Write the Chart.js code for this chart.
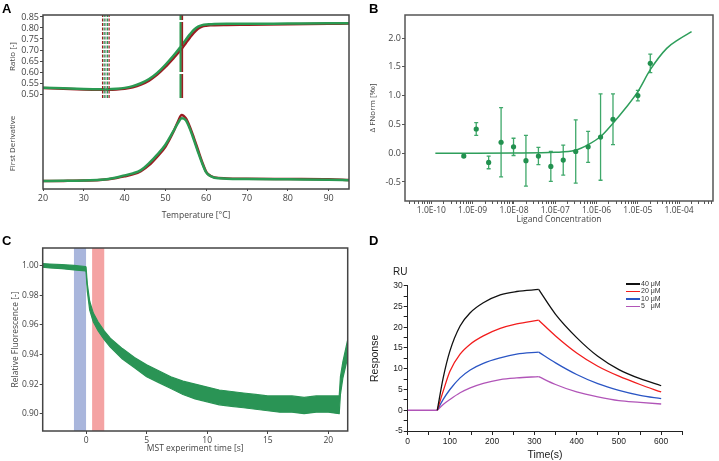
<!DOCTYPE html>
<html>
<head>
<meta charset="utf-8">
<script src="https://cdn.jsdelivr.net/npm/chart.js@4.4.1/dist/chart.umd.min.js"></script>
<style>
  body { margin: 0; background: #fff; width: 719px; height: 461px; position: relative; overflow: hidden; }
  .panel { position: absolute; }
  .tag { position: absolute; font: bold 13px "Liberation Sans", Arial, sans-serif; line-height: 13px; color: #000; }
  .ru { position: absolute; font: 10px "Liberation Sans", Arial, sans-serif; color: #222; }
  #legendD { position: absolute; left: 0; top: 0; font: 7px "Liberation Sans", Arial, sans-serif; color: #333; }
  #legendD .row { position: absolute; white-space: pre; line-height: 8px; }
  #legendD .sw { display: inline-block; width: 14px; height: 1.5px; vertical-align: middle; margin-right: 1px; }
</style>
</head>
<body>
<div class="panel" style="left:0;top:0"><canvas id="chartA" width="360" height="225"></canvas></div>
<div class="panel" style="left:360px;top:0"><canvas id="chartB" width="359" height="230"></canvas></div>
<div class="panel" style="left:0;top:230px"><canvas id="chartC" width="360" height="231"></canvas></div>
<div class="panel" style="left:360px;top:230px"><canvas id="chartD" width="359" height="231"></canvas></div>
<div class="tag" style="left:2px;top:2px">A</div>
<div class="tag" style="left:369px;top:2px">B</div>
<div class="tag" style="left:2px;top:234px">C</div>
<div class="tag" style="left:369px;top:234px">D</div>
<div class="ru" style="left:393px;top:266px">RU</div>
<div id="legendD"></div>
<script>
// --- Panel A: thermal unfolding (ratio + first derivative) ---
const aTemp = [20, 25, 30, 34, 36, 38, 40, 42, 44, 46, 48, 50, 52, 53, 54, 55, 56, 57, 58, 59, 60, 61, 62, 65, 70, 80, 90, 95];
const aRatioGreen = [0.529, 0.526, 0.523, 0.522, 0.522, 0.524, 0.528, 0.536, 0.549, 0.568, 0.596, 0.633, 0.675, 0.698, 0.722, 0.747, 0.771, 0.792, 0.806, 0.813, 0.816, 0.817, 0.818, 0.819, 0.819, 0.820, 0.821, 0.822];
const aRatioRed = [0.527, 0.524, 0.521, 0.520, 0.520, 0.521, 0.524, 0.531, 0.543, 0.561, 0.588, 0.623, 0.663, 0.684, 0.706, 0.731, 0.756, 0.779, 0.797, 0.806, 0.810, 0.812, 0.813, 0.814, 0.815, 0.817, 0.819, 0.820];
const aDerivGreen = [0.0, 0.003, 0.008, 0.018, 0.03, 0.052, 0.085, 0.115, 0.165, 0.27, 0.40, 0.55, 0.76, 0.87, 0.95, 0.92, 0.79, 0.62, 0.44, 0.27, 0.13, 0.075, 0.05, 0.035, 0.03, 0.025, 0.02, 0.012];
const aDerivRed = [0.0, 0.002, 0.006, 0.015, 0.025, 0.045, 0.07, 0.10, 0.15, 0.24, 0.37, 0.52, 0.75, 0.89, 1.0, 0.95, 0.82, 0.65, 0.47, 0.29, 0.14, 0.08, 0.055, 0.04, 0.035, 0.03, 0.025, 0.015];
const aRatioTicks = [0.50, 0.55, 0.60, 0.65, 0.70, 0.75, 0.80, 0.85];
const aTempTicks = [20, 30, 40, 50, 60, 70, 80, 90];
const aOnsetTemps = [34.6, 35.0, 35.4, 35.8, 36.2];
const aMidTemps = [53.7, 54.1];
const aRatioMin = 0.482, aRatioMax = 0.859;

// --- Panel B: MST dose response ---
const bConc = [6.1e-10, 1.22e-9, 2.44e-9, 4.88e-9, 9.77e-9, 1.95e-8, 3.91e-8, 7.81e-8, 1.56e-7, 3.13e-7, 6.25e-7, 1.25e-6, 2.5e-6, 1e-5, 2e-5];
const bVal = [-0.05, 0.42, -0.16, 0.19, 0.11, -0.13, -0.05, -0.23, -0.12, 0.03, 0.11, 0.28, 0.59, 1.00, 1.56];
const bErr = [0.02, 0.11, 0.11, 0.60, 0.15, 0.44, 0.15, 0.26, 0.26, 0.55, 0.27, 0.75, 0.44, 0.09, 0.16];
const bFitConc = [1.25e-10, 1e-9, 1e-8, 1e-7, 3e-7, 6.3e-7, 1.26e-6, 2.5e-6, 5e-6, 1e-5, 2e-5, 5e-5, 1e-4, 2e-4];
const bFitVal = [0, 0, 0.002, 0.015, 0.05, 0.15, 0.29, 0.52, 0.78, 1.07, 1.45, 1.82, 1.98, 2.11];
const bDecades = [1e-11, 1e-10, 1e-9, 1e-8, 1e-7, 1e-6, 1e-5, 1e-4];
const bDecadeLabels = ['', '1.0E-10', '1.0E-09', '1.0E-08', '1.0E-07', '1.0E-06', '1.0E-05', '1.0E-04'];
const bYTicks = [-0.5, 0, 0.5, 1.0, 1.5, 2.0];

// --- Panel C: MST traces ---
const cTime = [-3.6, -3, -2, -1, -0.05, 0, 0.1, 0.3, 0.6, 1, 1.5, 2, 3, 4, 5, 6, 7, 8, 9, 10, 11, 12, 13, 14, 15, 16, 17, 18, 19, 20, 20.9, 21.0, 21.2, 21.6];
const cUpper = [1.0015, 1.0012, 1.0008, 1.0002, 0.9995, 0.9990, 0.988, 0.976, 0.968, 0.962, 0.956, 0.951, 0.944, 0.938, 0.933, 0.929, 0.925, 0.922, 0.920, 0.918, 0.916, 0.915, 0.914, 0.913, 0.912, 0.912, 0.912, 0.911, 0.912, 0.912, 0.912, 0.925, 0.935, 0.950];
const cLower = [0.9990, 0.9985, 0.9980, 0.9972, 0.9965, 0.9960, 0.983, 0.970, 0.962, 0.956, 0.950, 0.945, 0.937, 0.931, 0.925, 0.921, 0.917, 0.913, 0.910, 0.908, 0.906, 0.905, 0.904, 0.903, 0.902, 0.901, 0.901, 0.900, 0.901, 0.901, 0.900, 0.913, 0.924, 0.938];
const cBandStart = [-1, 0.5];
const cBandEnd = [0, 1.5];
const cBandColors = ['#a9b6dc', '#f4a3a3'];
const cXTicks = [0, 5, 10, 15, 20];
const cYTicks = [0.90, 0.92, 0.94, 0.96, 0.98, 1.00];

// --- Panel D: SPR sensorgrams ---
const dTime = [0, 70, 84, 100, 124, 148, 179, 219, 258, 310, 350, 400, 450, 500, 550, 600];
const d40 = [0, 0, 7.8, 14.3, 20.3, 23.5, 25.9, 27.8, 28.6, 29.1, 23.1, 17.5, 13.0, 9.8, 7.6, 5.9];
const d20 = [0, 0, 4.6, 9.4, 13.5, 15.9, 17.9, 19.7, 20.8, 21.7, 17.9, 13.8, 10.6, 8.2, 6.2, 4.4];
const d10 = [0, 0, 2.6, 5.0, 7.8, 9.7, 11.3, 12.6, 13.5, 14.0, 11.4, 8.6, 6.4, 4.8, 3.6, 2.8];
const d5 = [0, 0, 1.4, 2.6, 4.2, 5.4, 6.5, 7.4, 7.8, 8.1, 6.2, 4.4, 3.2, 2.3, 1.9, 1.5];
const dLabels = ['40 μM', '20 μM', '10 μM', '5   μM'];
const dColors = ['#111111', '#f21d1d', '#2a55c4', '#b155b8'];
const dXTicks = [0, 50, 100, 150, 200, 250, 300, 350, 400, 450, 500, 550, 600, 650];
const dYTicks = [-5, -2.5, 0, 2.5, 5, 7.5, 10, 12.5, 15, 17.5, 20, 22.5, 25, 27.5, 30];

const segoe = "'Open Sans', 'Noto Sans', sans-serif";
const arial = "'Liberation Sans', Arial, sans-serif";

function pts(xs, ys) {
    return xs.map((x, i) => ({ x, y: ys[i] }));
}

// box drawn around the plot area (panels A-C)
const framePlugin = {
    id: 'frame',
    afterDraw(chart, args, opts) {
        if (!opts.color) return;
        const { ctx, chartArea: a } = chart;
        ctx.save();
        ctx.strokeStyle = opts.color;
        ctx.lineWidth = opts.width || 1;
        ctx.strokeRect(a.left, a.top, a.right - a.left, a.bottom - a.top);
        ctx.restore();
    }
};

// error bars for panel B
const errorBarPlugin = {
    id: 'errorBars',
    beforeDatasetsDraw(chart) {
        const { ctx, scales: { x, y } } = chart;
        ctx.save();
        ctx.strokeStyle = '#3fa86a';
        ctx.lineWidth = 1.3;
        bConc.forEach((c, i) => {
            const px = x.getPixelForValue(c);
            const top = y.getPixelForValue(bVal[i] + bErr[i]);
            const bot = y.getPixelForValue(bVal[i] - bErr[i]);
            ctx.beginPath();
            ctx.moveTo(px, top); ctx.lineTo(px, bot);
            ctx.moveTo(px - 2, top); ctx.lineTo(px + 2, top);
            ctx.moveTo(px - 2, bot); ctx.lineTo(px + 2, bot);
            ctx.stroke();
        });
        ctx.restore();
    }
};

// shaded time windows for panel C
const bandPlugin = {
    id: 'bands',
    beforeDatasetsDraw(chart) {
        const { ctx, chartArea: a, scales: { x } } = chart;
        ctx.save();
        cBandStart.forEach((s, i) => {
            const x0 = x.getPixelForValue(s);
            const x1 = x.getPixelForValue(cBandEnd[i]);
            ctx.fillStyle = cBandColors[i];
            ctx.fillRect(x0, a.top, x1 - x0, a.bottom - a.top);
        });
        ctx.restore();
    }
};

const baseOpts = {
    responsive: false,
    animation: false,
    events: [],
    elements: { point: { radius: 0 }, line: { borderJoinStyle: 'round' } }
};

function tickGrid(len, color) {
    return { display: true, drawOnChartArea: false, drawTicks: true, tickLength: len, color: color, tickColor: color };
}

// ---------------- Panel A ----------------
const aSets = [];
aOnsetTemps.forEach((t, i) => {
    aSets.push({
        data: [{ x: t, y: aRatioMin }, { x: t, y: aRatioMax }], yAxisID: 'yr',
        borderColor: ['#9b1c22', '#2a9a52', '#8a8a8a', '#2a9a52', '#9b1c22'][i],
        borderWidth: 1.2, borderDash: [3, 1.5]
    });
});
aMidTemps.forEach((t, i) => {
    aSets.push({
        data: [{ x: t, y: aRatioMin }, { x: t, y: aRatioMax }], yAxisID: 'yr',
        borderColor: i === 0 ? '#2a9a52' : '#9b1c22', borderWidth: 2, borderDash: [24, 2]
    });
});
aSets.push({ data: pts(aTemp, aRatioGreen), yAxisID: 'yr', borderColor: '#2a9a52', borderWidth: 2.5, cubicInterpolationMode: 'monotone' });
aSets.push({ data: pts(aTemp, aRatioRed), yAxisID: 'yr', borderColor: '#9b1c22', borderWidth: 2.5, cubicInterpolationMode: 'monotone' });
aSets.push({ data: pts(aTemp, aDerivGreen), yAxisID: 'yd', borderColor: '#2a9a52', borderWidth: 2.5, cubicInterpolationMode: 'monotone' });
aSets.push({ data: pts(aTemp, aDerivRed), yAxisID: 'yd', borderColor: '#9b1c22', borderWidth: 2.5, cubicInterpolationMode: 'monotone' });

new Chart(document.getElementById('chartA'), {
    type: 'line',
    data: { datasets: aSets },
    options: {
        ...baseOpts,
        layout: { padding: { left: 8, right: 11, top: 15, bottom: 4 } },
        plugins: { legend: { display: false }, tooltip: { enabled: false }, frame: { color: '#444', width: 1.5 } },
        scales: {
            x: {
                type: 'linear', min: 20, max: 95,
                afterBuildTicks: s => { s.ticks = aTempTicks.map(v => ({ value: v })); },
                afterFit: s => { s.height = 32; },
                grid: tickGrid(2, '#444'), border: { display: false },
                ticks: { color: '#444', padding: 2, maxRotation: 0, font: { family: segoe, size: 9 } },
                title: { display: true, text: 'Temperature [°C]', color: '#444', padding: 0, font: { family: segoe, size: 8.5 } }
            },
            // stacked left axes: the later one is placed on top
            yd: {
                type: 'linear', position: 'left', stack: 'a', stackWeight: 91, min: -0.121, max: 1.258,
                afterFit: s => { s.width = 35; },
                grid: { display: false }, border: { display: false },
                ticks: { display: false },
                title: { display: true, text: 'First Derivative', color: '#444', padding: 0, font: { family: segoe, size: 8 } }
            },
            yr: {
                type: 'linear', position: 'left', stack: 'a', stackWeight: 83, min: aRatioMin, max: aRatioMax,
                afterBuildTicks: s => { s.ticks = aRatioTicks.map(v => ({ value: v })); },
                afterFit: s => { s.width = 35; },
                grid: tickGrid(3, '#444'), border: { display: false },
                ticks: { color: '#444', padding: 1, autoSkip: false, font: { family: segoe, size: 9 }, callback: v => v.toFixed(2) },
                title: { display: true, text: 'Ratio [-]', color: '#444', padding: 0, font: { family: segoe, size: 8 } }
            }
        }
    },
    plugins: [framePlugin]
});

// ---------------- Panel B ----------------
const bTicks = [];
bDecades.forEach(d => {
    for (let m = 1; m <= 9; m++) bTicks.push(m === 1 ? d : d * m);
});

new Chart(document.getElementById('chartB'), {
    type: 'line',
    data: {
        datasets: [
            { type: 'scatter', data: pts(bConc, bVal), showLine: false, pointRadius: 2.6, pointBackgroundColor: '#22914f', pointBorderWidth: 0 },
            { data: pts(bFitConc, bFitVal), borderColor: '#2e9e5b', borderWidth: 1.5, cubicInterpolationMode: 'monotone', pointRadius: 0 }
        ]
    },
    options: {
        ...baseOpts,
        layout: { padding: { left: 8, right: 6, top: 15, bottom: 5 } },
        plugins: { legend: { display: false }, tooltip: { enabled: false }, frame: { color: '#555', width: 1.5 } },
        scales: {
            x: {
                type: 'logarithmic', min: 2.3e-11, max: 6.6e-4,
                afterBuildTicks: s => { s.ticks = bTicks.filter(v => v >= 2.3e-11 && v <= 6.6e-4).map(v => ({ value: v })); },
                afterFit: s => { s.height = 24; },
                grid: tickGrid(3, '#555'), border: { display: false },
                ticks: {
                    color: '#444', padding: 1, maxRotation: 0, autoSkip: false, font: { family: segoe, size: 8.5 },
                    callback: v => { const i = bDecades.indexOf(v); return i >= 0 ? bDecadeLabels[i] : ''; }
                },
                title: { display: true, text: 'Ligand Concentration', color: '#444', padding: 0, font: { family: segoe, size: 8.5 } }
            },
            y: {
                type: 'linear', min: -0.83, max: 2.40,
                afterBuildTicks: s => { s.ticks = bYTicks.map(v => ({ value: v })); },
                afterFit: s => { s.width = 37; },
                grid: tickGrid(3, '#555'), border: { display: false },
                ticks: { color: '#444', padding: 1, font: { family: segoe, size: 9 }, callback: v => v.toFixed(1) },
                title: { display: true, text: 'Δ FNorm [‰]', color: '#444', padding: 0, font: { family: segoe, size: 8 } }
            }
        }
    },
    plugins: [framePlugin, errorBarPlugin]
});

// ---------------- Panel C ----------------
new Chart(document.getElementById('chartC'), {
    type: 'line',
    data: {
        datasets: [
            { data: pts(cTime, cUpper), borderColor: '#2a9455', borderWidth: 1.2, backgroundColor: '#2a9455', fill: '+1', tension: 0 },
            { data: pts(cTime, cLower), borderColor: '#2a9455', borderWidth: 1.2, tension: 0 }
        ]
    },
    options: {
        ...baseOpts,
        layout: { padding: { left: 10, right: 12.3, top: 18, bottom: 7.7 } },
        plugins: { legend: { display: false }, tooltip: { enabled: false }, filler: { propagate: false }, frame: { color: '#444', width: 1.5 } },
        scales: {
            x: {
                type: 'linear', min: -3.58, max: 21.6,
                afterBuildTicks: s => { s.ticks = cXTicks.map(v => ({ value: v })); },
                afterFit: s => { s.height = 22.3; },
                grid: tickGrid(3, '#444'), border: { display: false },
                ticks: { color: '#444', padding: 1, maxRotation: 0, font: { family: segoe, size: 8.5 } },
                title: { display: true, text: 'MST experiment time [s]', color: '#444', padding: 0, font: { family: segoe, size: 8.5 } }
            },
            y: {
                type: 'linear', min: 0.8883, max: 1.012,
                afterBuildTicks: s => { s.ticks = cYTicks.map(v => ({ value: v })); },
                afterFit: s => { s.width = 32.7; },
                grid: tickGrid(3, '#444'), border: { display: false },
                ticks: { color: '#444', padding: 1, font: { family: segoe, size: 8.5 }, callback: v => v.toFixed(2) },
                title: { display: true, text: 'Relative Fluorescence [-]', color: '#444', padding: 0, font: { family: segoe, size: 8.5 } }
            }
        }
    },
    plugins: [framePlugin, bandPlugin]
});

// ---------------- Panel D ----------------
const dSeries = [d40, d20, d10, d5];
const dSets = [];
// association (70-310 s) and dissociation (310-600 s) drawn as separate smooth pieces
dSeries.forEach((vals, k) => {
    dSets.push({ data: pts(dTime.slice(1, 10), vals.slice(1, 10)), borderColor: dColors[k], borderWidth: 1.3, cubicInterpolationMode: 'monotone' });
    dSets.push({ data: pts(dTime.slice(9), vals.slice(9)), borderColor: dColors[k], borderWidth: 1.3, cubicInterpolationMode: 'monotone' });
});
dSets.push({ data: pts(dTime.slice(0, 2), d5.slice(0, 2)), borderColor: dColors[3], borderWidth: 1.3 });

new Chart(document.getElementById('chartD'), {
    type: 'line',
    data: { datasets: dSets },
    options: {
        ...baseOpts,
        layout: { padding: { left: 8.7, right: 36.7, top: 55.7, bottom: 0 } },
        plugins: { legend: { display: false }, tooltip: { enabled: false } },
        scales: {
            x: {
                type: 'linear', min: 0, max: 650,
                afterBuildTicks: s => { s.ticks = dXTicks.map(v => ({ value: v })); },
                afterFit: s => { s.height = 30; },
                grid: tickGrid(4, '#222'), border: { display: true, color: '#222', width: 1 },
                ticks: { color: '#222', padding: 2, maxRotation: 0, autoSkip: false, font: { family: arial, size: 8.5 }, callback: v => v % 100 === 0 && v <= 600 ? v : '' },
                title: { display: true, text: 'Time(s)', color: '#222', padding: 0, font: { family: arial, size: 10.5 } }
            },
            y: {
                type: 'linear', min: -5, max: 30,
                afterBuildTicks: s => { s.ticks = dYTicks.map(v => ({ value: v })); },
                afterFit: s => { s.width = 39; },
                grid: tickGrid(4, '#222'), border: { display: true, color: '#222', width: 1 },
                ticks: { color: '#222', padding: 1, autoSkip: false, font: { family: arial, size: 8.5 }, callback: v => v % 5 === 0 ? v : '' },
                title: { display: true, text: 'Response', color: '#222', padding: 0, font: { family: arial, size: 10.5 } }
            }
        }
    }
});

// legend for panel D
const legendD = document.getElementById('legendD');
dLabels.forEach((label, i) => {
    const row = document.createElement('div');
    row.className = 'row';
    row.style.left = '626px';
    row.style.top = (280 + i * 7.4) + 'px';
    row.innerHTML = `<span class="sw" style="background:${dColors[i]}"></span>${label}`;
    legendD.appendChild(row);
});
</script>
</body>
</html>
